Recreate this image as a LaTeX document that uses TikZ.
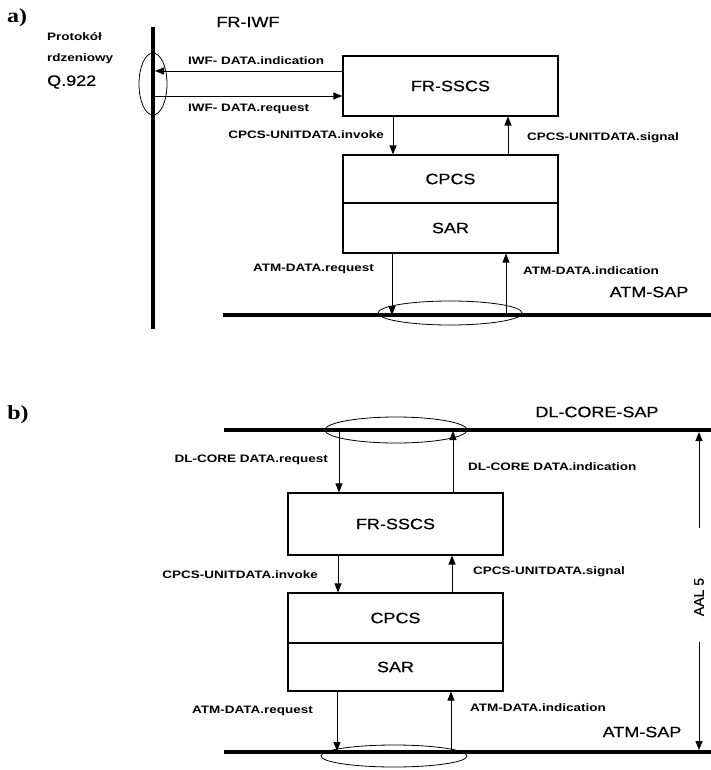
\documentclass[tikz,border=0pt]{standalone}
\usepackage{fontspec}
\setmainfont{Liberation Sans}
\newfontfamily\serifb{Liberation Serif}
\newfontfamily\mainmed[FakeBold=0.5]{Liberation Sans}
\usetikzlibrary{arrows.meta}
\newcommand{\sx}[2]{\scalebox{#1}[1]{#2}}
\begin{document}
\begin{tikzpicture}[x=1pt,y=-1pt,
  box/.style={draw,line width=1.1pt,inner sep=0pt,minimum width=215pt,font=\fontsize{15}{17}\mainmed},
  big/.style={font=\fontsize{15}{17}\mainmed,inner sep=0pt},
  lbl/.style={font=\fontsize{10.8}{12}\selectfont\bfseries,inner sep=0pt},
  tag/.style={font=\fontsize{20}{22}\serifb\bfseries,inner sep=0pt},
  sap/.style={line width=3.2pt},
  arr/.style={line width=0.9pt,-{Triangle[length=9pt,width=7pt]}},
  ring/.style={draw,line width=0.8pt}]
\useasboundingbox (0,0) rectangle (711,770);

% ---------------- part a ----------------
\node[tag] (ta) at (17,18) {\sx{1.2}{a)}};
\node[big] (fiwf) at (248,22) {\sx{1.2}{FR-IWF}};
\node[lbl,anchor=west] (p1) at (47,37) {\sx{1.25}{Protokół}};
\node[lbl,anchor=west] (p2) at (47,59) {\sx{1.25}{rdzeniowy}};
\node[big,anchor=west] (p3) at (47,82) {\sx{1.2}{Q.922}};

\node[box,minimum height=60pt] (fsa) at (450.5,86) {\sx{1.2}{FR-SSCS}};
\node[box,minimum height=48pt] (cpa) at (450.5,179) {\sx{1.2}{CPCS}};
\node[box,minimum height=50pt] (sra) at (450.5,228) {\sx{1.2}{SAR}};

\coordinate (vt) at (153,27);
\coordinate (vb) at (153,329);
\draw[sap] (vt) -- (vb);
\coordinate (ha1) at (223,315);
\coordinate (ha2) at (711,315);
\draw[sap] (ha1) -- (ha2);

\draw[ring] (153,84) ellipse [x radius=14pt, y radius=31pt];
\draw[ring] (450,313) ellipse [x radius=72pt, y radius=12pt];

\coordinate (ind) at (155,71);
\coordinate (rq) at (155,96);
\draw[arr] (fsa.west |- ind) -- (ind);
\draw[arr] (rq) -- (fsa.west |- rq);
\node[lbl,anchor=west] (lind) at (188,61) {\sx{1.25}{IWF- DATA.indication}};
\node[lbl,anchor=west] (lreq) at (188,109) {\sx{1.25}{IWF- DATA.request}};

\coordinate (ivx) at (393,0);
\coordinate (sgx) at (508,0);
\draw[arr] (fsa.south -| ivx) -- (cpa.north -| ivx);
\draw[arr] (cpa.north -| sgx) -- (fsa.south -| sgx);
\node[lbl,anchor=east] (linv) at (384,135) {\sx{1.25}{CPCS-UNITDATA.invoke}};
\node[lbl,anchor=west] (lsig) at (527,138) {\sx{1.25}{CPCS-UNITDATA.signal}};

\coordinate (aq) at (392,315);
\coordinate (ai) at (506,313);
\draw[arr] (sra.south -| aq) -- (aq);
\draw[arr] (ai) -- (sra.south -| ai);
\node[lbl,anchor=east] (latq) at (374,269) {\sx{1.25}{ATM-DATA.request}};
\node[lbl,anchor=west] (lati) at (523,271) {\sx{1.25}{ATM-DATA.indication}};
\node[big] (sapa) at (649,292) {\sx{1.2}{ATM-SAP}};

% ---------------- part b ----------------
\node[tag] (tb) at (18,415) {\sx{1.2}{b)}};
\node[big] (dlsap) at (597,412) {\sx{1.2}{DL-CORE-SAP}};

\coordinate (hb1) at (224,430);
\coordinate (hb2) at (711,430);
\draw[sap] (hb1) -- (hb2);
\coordinate (hc1) at (224,752);
\coordinate (hc2) at (711,752);
\draw[sap] (hc1) -- (hc2);

\draw[ring] (396,430) ellipse [x radius=71pt, y radius=13pt];
\draw[ring] (394,756) ellipse [x radius=73pt, y radius=11pt];

\node[box,minimum height=62pt] (fsb) at (395.5,524) {\sx{1.2}{FR-SSCS}};
\node[box,minimum height=50pt] (cpb) at (395.5,618) {\sx{1.2}{CPCS}};
\node[box,minimum height=48pt] (srb) at (395.5,667) {\sx{1.2}{SAR}};

\coordinate (dq) at (339,431);
\coordinate (di) at (453,431);
\draw[arr] (dq) -- (fsb.north -| dq);
\draw[arr] (fsb.north -| di) -- (di);
\node[lbl,anchor=east] (ldq) at (328,460) {\sx{1.25}{DL-CORE DATA.request}};
\node[lbl,anchor=west] (ldi) at (468,467) {\sx{1.25}{DL-CORE DATA.indication}};

\coordinate (ivb) at (338,0);
\coordinate (sgb) at (452,0);
\draw[arr] (fsb.south -| ivb) -- (cpb.north -| ivb);
\draw[arr] (cpb.north -| sgb) -- (fsb.south -| sgb);
\node[lbl,anchor=east] (linvb) at (318,575) {\sx{1.25}{CPCS-UNITDATA.invoke}};
\node[lbl,anchor=west] (lsigb) at (473,572) {\sx{1.25}{CPCS-UNITDATA.signal}};

\coordinate (bq) at (337,751);
\coordinate (bi) at (451,750);
\draw[arr] (srb.south -| bq) -- (bq);
\draw[arr] (bi) -- (srb.south -| bi);
\node[lbl,anchor=east] (lbq) at (313,711) {\sx{1.25}{ATM-DATA.request}};
\node[lbl,anchor=west] (lbi) at (470,708) {\sx{1.25}{ATM-DATA.indication}};
\node[big] (sapb) at (642,732) {\sx{1.2}{ATM-SAP}};

\node[big,rotate=90,font=\fontsize{14}{16}\mainmed] (aal) at (699,597) {AAL 5};
\coordinate (au0) at (699,528);
\coordinate (au1) at (699,432);
\coordinate (ad0) at (699,642);
\coordinate (ad1) at (699,750);
\draw[arr] (au0) -- (au1);
\draw[arr] (ad0) -- (ad1);
\end{tikzpicture}
\end{document}
